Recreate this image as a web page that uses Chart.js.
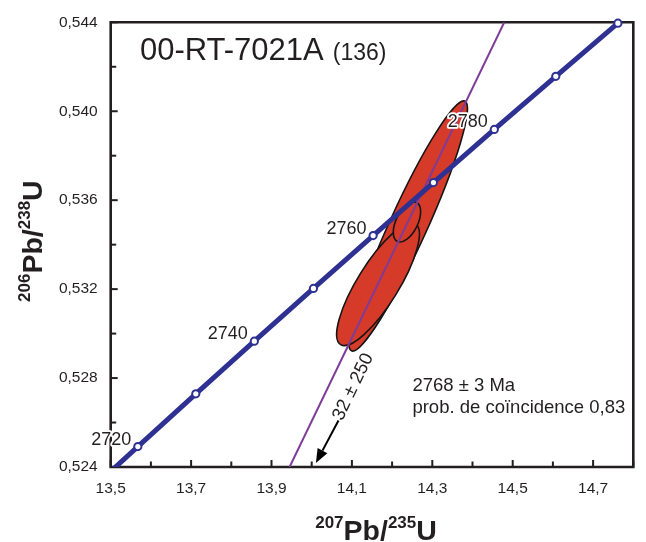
<!DOCTYPE html>
<html><head><meta charset="utf-8">
<script src="https://cdn.jsdelivr.net/npm/chart.js@4.4.1/dist/chart.umd.min.js"></script>
<style>html,body{margin:0;padding:0;background:#fff;}canvas{display:block;}</style>
</head><body>
<canvas id="c" width="646" height="542"></canvas>
<script>
// ---- data ----
const concordiaAges = [2710, 2720, 2730, 2740, 2750, 2760, 2770, 2780, 2790, 2800];
const concordia207 = [13.4247, 13.5675, 13.7117, 13.8573, 14.0043, 14.1528, 14.3028, 14.4542, 14.6072, 14.7617];
const concordia206 = [0.52255, 0.52492, 0.52729, 0.52966, 0.53203, 0.53441, 0.53679, 0.53918, 0.54157, 0.54396];
const labelledAges = [2720, 2740, 2760, 2780];

const discordia207 = [13.945, 14.479];
const discordia206 = [0.524, 0.544];

const ellipse207 = [14.240, 14.165, 14.237];
const ellipse206 = [0.53484, 0.53222, 0.53502];
const ellipseErr207 = [0.1474, 0.1028, 0.0340];
const ellipseErr206 = [0.005627, 0.002758, 0.000900];
const ellipseRho = [0.938, 0.816, 0.516];

const xRange = [13.5, 14.8];
const xStep = 0.1;
const yRange = [0.524, 0.544];
const yStep = 0.002;

const sampleName = '00-RT-7021A';
const sampleCount = '(136)';
const resultLines = ['2768 \u00b1 3 Ma', 'prob. de co\u00efncidence 0,83'];
const lowerIntercept = '32 \u00b1 250';

// annotation anchors (data units)
const annot = {
  title: [13.5727, 0.54231],
  result1: [14.2505, 0.52744],
  result2: [14.2505, 0.52642],
  intercept: [14.1032, 0.5276],
  arrowFrom: [14.0666, 0.52609],
  arrowTo: [14.0105, 0.52418]
};

// ---- styles ----
const FONT = "'Liberation Sans', Arial, Helvetica, sans-serif";
const INK = '#231F20';
const BLUE = '#2E3192';
const PURPLE = '#7D3C98';
const RED = '#D63B2A';

const pts = (xs, ys) => xs.map((x, i) => ({x: x, y: ys[i]}));
const markerPts = pts(concordia207, concordia206).filter(p => p.y >= yRange[0] && p.y <= yRange[1] && p.x >= xRange[0] && p.x <= xRange[1]);

function drawRuns(ctx, runs, cx, baseY) {
  let total = 0;
  runs.forEach(r => { ctx.font = 'bold ' + r.size + 'px ' + FONT; r.w = ctx.measureText(r.text).width; total += r.w; });
  let x = cx - total / 2;
  ctx.textAlign = 'left';
  ctx.textBaseline = 'alphabetic';
  runs.forEach(r => { ctx.font = 'bold ' + r.size + 'px ' + FONT; ctx.fillText(r.text, x, baseY - r.rise); x += r.w; });
}

const customPlugin = {
  id: 'concordiaExtras',
  beforeDatasetsDraw(chart) {
    const ctx = chart.ctx, xs = chart.scales.x, ys = chart.scales.y, ca = chart.chartArea;
    // ellipses
    ctx.save();
    ctx.beginPath(); ctx.rect(ca.left, ca.top, ca.right - ca.left, ca.bottom - ca.top); ctx.clip();
    ellipse207.forEach((cx, i) => {
      const cy = ellipse206[i];
      const X = xs.getPixelForValue(cx), Y = ys.getPixelForValue(cy);
      const px = xs.getPixelForValue(cx + ellipseErr207[i]) - X;
      const py = ys.getPixelForValue(cy + ellipseErr206[i]) - Y;
      const Sxx = px * px, Syy = py * py, Sxy = ellipseRho[i] * px * py;
      const th = 0.5 * Math.atan2(2 * Sxy, Sxx - Syy);
      const m = (Sxx + Syy) / 2, d = Math.sqrt(((Sxx - Syy) / 2) ** 2 + Sxy * Sxy);
      const a = Math.sqrt(m + d), b = Math.sqrt(Math.max(m - d, 0));
      ctx.beginPath();
      ctx.ellipse(X, Y, a, b, th, 0, Math.PI * 2);
      ctx.fillStyle = RED; ctx.fill();
      ctx.lineWidth = 1.6; ctx.strokeStyle = '#151515'; ctx.stroke();
    });
    ctx.restore();
    // frame
    ctx.save();
    ctx.strokeStyle = INK;
    ctx.lineWidth = 2.6;
    ctx.lineCap = 'square';
    ctx.beginPath();
    ctx.rect(ca.left, ca.top, ca.right - ca.left, ca.bottom - ca.top);
    ctx.stroke();
    ctx.lineWidth = 2;
    ctx.lineCap = 'butt';
    xs.ticks.forEach(t => {
      const p = xs.getPixelForValue(t.value);
      const len = (t.label !== '' ? 6 : 4.5);
      ctx.beginPath(); ctx.moveTo(p, ca.bottom); ctx.lineTo(p, ca.bottom - len - 1); ctx.stroke();
    });
    ys.ticks.forEach(t => {
      const p = ys.getPixelForValue(t.value);
      const len = (t.label !== '' ? 6 : 4.5);
      ctx.beginPath(); ctx.moveTo(ca.left, p); ctx.lineTo(ca.left + len + 1, p); ctx.stroke();
    });
    ctx.restore();
  },
  afterDatasetsDraw(chart) {
    const ctx = chart.ctx, xs = chart.scales.x, ys = chart.scales.y, ca = chart.chartArea;
    const P = a => [xs.getPixelForValue(a[0]), ys.getPixelForValue(a[1])];
    ctx.save();
    // age labels
    ctx.font = '18px ' + FONT;
    ctx.textAlign = 'right';
    ctx.textBaseline = 'alphabetic';
    ctx.lineJoin = 'round';
    labelledAges.forEach(age => {
      const i = concordiaAges.indexOf(age);
      const X = xs.getPixelForValue(concordia207[i]), Y = ys.getPixelForValue(concordia206[i]);
      ctx.lineWidth = 3.5; ctx.strokeStyle = '#ffffff';
      ctx.strokeText(String(age), X - 6.5, Y - 2);
      ctx.fillStyle = INK;
      ctx.fillText(String(age), X - 6.5, Y - 2);
    });
    // title
    ctx.textAlign = 'left';
    const tp = P(annot.title);
    ctx.font = '31px ' + FONT;
    ctx.fillStyle = INK;
    ctx.fillText(sampleName, tp[0], tp[1]);
    const w = ctx.measureText(sampleName).width;
    ctx.font = '23px ' + FONT;
    ctx.fillText(sampleCount, tp[0] + w + 9, tp[1]);
    // result text
    ctx.font = '18.5px ' + FONT;
    const r1 = P(annot.result1), r2 = P(annot.result2);
    ctx.fillText(resultLines[0], r1[0], r1[1]);
    ctx.fillText(resultLines[1], r2[0], r2[1]);
    // lower intercept label, rotated along discordia
    const d0 = P([discordia207[0], discordia206[0]]), d1 = P([discordia207[1], discordia206[1]]);
    const ang = Math.atan2(d1[1] - d0[1], d1[0] - d0[0]);
    const ip = P(annot.intercept);
    ctx.save();
    ctx.translate(ip[0], ip[1]);
    ctx.rotate(ang);
    ctx.textAlign = 'center';
    ctx.textBaseline = 'middle';
    ctx.font = '18.5px ' + FONT;
    ctx.fillText(lowerIntercept, 0, 0);
    ctx.restore();
    // arrow
    const a0 = P(annot.arrowFrom), a1 = P(annot.arrowTo);
    const aa = Math.atan2(a1[1] - a0[1], a1[0] - a0[0]);
    const hl = 14, hw = 5.5;
    const bx = a1[0] - hl * Math.cos(aa), by = a1[1] - hl * Math.sin(aa);
    ctx.strokeStyle = '#000'; ctx.fillStyle = '#000'; ctx.lineWidth = 2;
    ctx.beginPath(); ctx.moveTo(a0[0], a0[1]); ctx.lineTo(bx, by); ctx.stroke();
    ctx.beginPath();
    ctx.moveTo(a1[0], a1[1]);
    ctx.lineTo(bx + hw * Math.sin(aa), by - hw * Math.cos(aa));
    ctx.lineTo(bx - hw * Math.sin(aa), by + hw * Math.cos(aa));
    ctx.closePath(); ctx.fill();
    // axis titles
    ctx.fillStyle = INK;
    drawRuns(ctx, [
      {text: '207', size: 17, rise: 11.7},
      {text: 'Pb/', size: 28.5, rise: 0},
      {text: '235', size: 17, rise: 11.7},
      {text: 'U', size: 28.5, rise: 0}
    ], (ca.left + ca.right) / 2 + 4, ca.bottom + 73);
    ctx.save();
    ctx.translate(41.5, (ca.top + ca.bottom) / 2 - 3.5);
    ctx.rotate(-Math.PI / 2);
    drawRuns(ctx, [
      {text: '206', size: 17, rise: 11.7},
      {text: 'Pb/', size: 28.5, rise: 0},
      {text: '238', size: 17, rise: 11.7},
      {text: 'U', size: 28.5, rise: 0}
    ], 0, 0);
    ctx.restore();
    ctx.restore();
  }
};

new Chart(document.getElementById('c'), {
  type: 'scatter',
  data: {
    datasets: [
      {label: 'discordia', data: pts(discordia207, discordia206), showLine: true, borderColor: PURPLE, borderWidth: 2, pointRadius: 0, clip: 0, order: 3},
      {label: 'concordia', data: pts(concordia207, concordia206), showLine: true, borderColor: BLUE, borderWidth: 5, pointRadius: 0, clip: 0, order: 2},
      {label: 'ages', data: markerPts, showLine: false, pointRadius: 3.6, pointBackgroundColor: '#ffffff', pointBorderColor: BLUE, pointBorderWidth: 2, clip: false, order: 1}
    ]
  },
  options: {
    responsive: false,
    animation: false,
    devicePixelRatio: 1,
    layout: {padding: {top: 17, right: 3, left: 0, bottom: 0}},
    plugins: {legend: {display: false}, tooltip: {enabled: false}},
    scales: {
      x: {
        type: 'linear', min: xRange[0], max: xRange[1],
        grid: {display: false, drawTicks: false, tickLength: 0}, border: {display: false},
        ticks: {
          stepSize: xStep, autoSkip: false, maxRotation: 0, padding: 12.7,
          color: INK, font: {family: FONT, size: 15.5},
          callback: v => (Math.round(v * 10) % 2 === 1 ? v.toFixed(1).replace('.', ',') : '')
        },
        afterFit: s => { s.height = 75; }
      },
      y: {
        type: 'linear', min: yRange[0], max: yRange[1],
        grid: {display: false, drawTicks: false, tickLength: 0}, border: {display: false},
        ticks: {
          stepSize: yStep, autoSkip: false, padding: 13,
          color: INK, font: {family: FONT, size: 15.5},
          callback: v => (Math.round(v * 1000) % 4 === 0 ? v.toFixed(3).replace('.', ',') : '')
        },
        afterFit: s => { s.width = 110.7; }
      }
    }
  },
  plugins: [customPlugin]
});
</script>
</body></html>
